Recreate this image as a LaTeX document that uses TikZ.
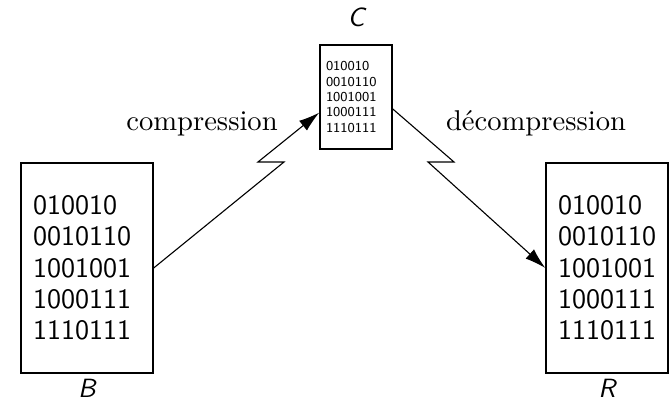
\documentclass[tikz,border=0pt]{standalone}
\usepackage{tikz}
\usetikzlibrary{arrows.meta,positioning}

\begin{document}
\begin{tikzpicture}[
  x=0.36pt, y=-0.36pt,
  bitbox/.style={rectangle, draw=black, line width=0.5pt,
                 text width=38.88pt, inner xsep=4.32pt,
                 minimum height=75.6pt, align=left,
                 font=\sffamily\fontsize{10.1}{11.3}\selectfont},
  minibox/.style={rectangle, draw=black, line width=0.5pt,
                  text width=21.6pt, inner xsep=2.16pt,
                  minimum height=37.44pt, align=left,
                  font=\sffamily\fontsize{4.9}{5.5}\selectfont},
  tag/.style={inner sep=0pt, font=\sffamily\slshape\fontsize{9.5}{11}\selectfont},
  phase/.style={anchor=base, inner sep=0pt, font=\fontsize{10.3}{12}\selectfont},
  zap/.style={-{Latex[length=7.5pt,width=4.5pt]}, line width=0.4pt}
]
\useasboundingbox (0,0) rectangle (670,399);

\node[bitbox] (b) at (87,268) {010010\\0010110\\1001001\\1000111\\1110111};
\node[minibox] (c) at (356,97) {010010\\0010110\\1001001\\1000111\\1110111};
\node[bitbox, text width=35.28pt] (r) at (607,268) {010010\\0010110\\1001001\\1000111\\1110111};

\node[tag, below=1.6pt of b] (b-tag) {B};
\node[tag, above=6pt of c] (c-tag) {C};
\node[tag, below=1.6pt of r] (r-tag) {R};

\node[phase] (comp) at (202,131) {compression};
\node[phase] (decomp) at (536,131) {décompression};

\draw[zap] (b.east) -- (284,162) -- (258,162) -- (c.203);
\draw[zap] (c.-18) -- (454,162) -- (428,162) -- (r.west);
\end{tikzpicture}
\end{document}
